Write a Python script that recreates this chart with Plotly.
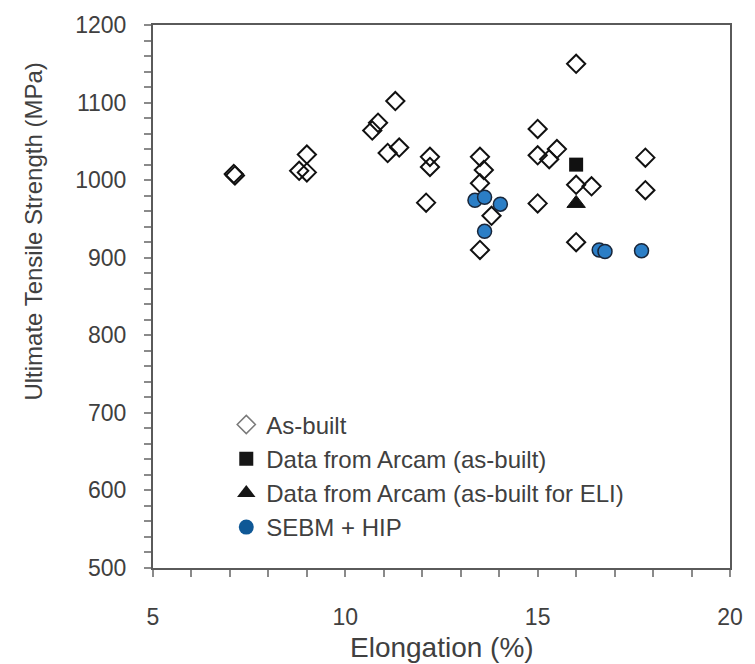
import plotly.graph_objects as go

# Elongation (%) and ultimate tensile strength (MPa)
as_built_elong = [7.1, 7.13, 8.8, 9.0, 9.0, 10.7, 10.85, 11.3, 11.1, 11.4,
                  12.2, 12.2, 12.1, 13.5, 13.6, 13.5, 13.8, 13.5,
                  15.0, 15.0, 15.3, 15.5, 15.0, 16.0, 16.0, 16.4, 16.0,
                  17.8, 17.8]
as_built_uts = [1008, 1006, 1012, 1033, 1010, 1064, 1074, 1102, 1035, 1042,
                1030, 1017, 971, 1030, 1013, 996, 954, 910,
                1066, 1032, 1027, 1040, 970, 1150, 994, 992, 920,
                1029, 987]

arcam_elong = [16.0]
arcam_uts = [1020]

arcam_eli_elong = [16.0]
arcam_eli_uts = [970]

hip_elong = [13.37, 13.62, 14.03, 13.62, 16.6, 16.75, 17.7]
hip_uts = [974, 978, 969, 934, 910, 908, 909]

legend_names = ["As-built", "Data from Arcam (as-built)",
                "Data from Arcam (as-built for ELI)", "SEBM + HIP"]

x_ticks = [5, 10, 15, 20]
y_ticks = [500, 600, 700, 800, 900, 1000, 1100, 1200]

TEXT = "#404040"
FONT = "Liberation Sans, Arial, sans-serif"

fig = go.Figure()

# plotted data
fig.add_trace(go.Scatter(
    x=as_built_elong, y=as_built_uts, mode="markers", showlegend=False,
    marker=dict(symbol="diamond-open", size=14, color="#111111",
                line=dict(width=2, color="#111111"))))
fig.add_trace(go.Scatter(
    x=hip_elong, y=hip_uts, mode="markers", showlegend=False,
    marker=dict(symbol="circle", size=14, color="#2b7ec6",
                line=dict(width=1.5, color="#18263a"))))
fig.add_trace(go.Scatter(
    x=arcam_elong, y=arcam_uts, mode="markers", showlegend=False,
    marker=dict(symbol="square", size=14, color="#111111")))
fig.add_trace(go.Scatter(
    x=arcam_eli_elong, y=arcam_eli_uts, mode="markers", showlegend=False,
    marker=dict(symbol="triangle-up", size=16, color="#111111",
                line=dict(width=1, color="#111111"))))

# legend entries
legend_markers = [
    dict(symbol="diamond-open", size=14, color="#7a7a7a", line=dict(width=1.5, color="#7a7a7a")),
    dict(symbol="square", size=14, color="#161616"),
    dict(symbol="triangle-up", size=16, color="#161616"),
    dict(symbol="circle", size=15, color="#0f5896"),
]
for name, mk in zip(legend_names, legend_markers):
    fig.add_trace(go.Scatter(x=[None], y=[None], mode="markers", name=name,
                             marker=mk, showlegend=True))

axis_common = dict(
    showline=True, mirror=True, linecolor="#5a5a5a", linewidth=2,
    showgrid=False, zeroline=False,
    ticks="outside", ticklen=7, tickwidth=1.5, tickcolor="#8a8a8a",
    tickfont=dict(family=FONT, size=23, color=TEXT),
)

fig.update_xaxes(range=[5, 20], tickvals=x_ticks, ticklabelstandoff=20,
                 minor=dict(dtick=1, ticks="outside", ticklen=7, tickwidth=1.5,
                            tickcolor="#8a8a8a"),
                 **axis_common)
fig.update_yaxes(range=[500, 1200], tickvals=y_ticks, ticklabelstandoff=13,
                 minor=dict(dtick=20, ticks="outside", ticklen=7, tickwidth=1.5,
                            tickcolor="#8a8a8a"),
                 **axis_common)

fig.add_annotation(text="Elongation (%)", xref="paper", yref="paper",
                   x=0.5, y=-0.146, xanchor="center", yanchor="middle",
                   showarrow=False, font=dict(family=FONT, size=28, color=TEXT))
fig.add_annotation(text="Ultimate Tensile Strength (MPa)", xref="paper", yref="paper",
                   x=-0.2075, y=0.62, xanchor="center", yanchor="middle",
                   textangle=-90, showarrow=False,
                   font=dict(family=FONT, size=24, color=TEXT))

fig.update_layout(
    width=755, height=664,
    margin=dict(l=153, r=19, t=21, b=96),
    paper_bgcolor="white", plot_bgcolor="white",
    legend=dict(x=0.127, y=0.305, xanchor="left", yanchor="top",
                bgcolor="rgba(0,0,0,0)", borderwidth=0,
                font=dict(family=FONT, size=24, color=TEXT)),
)

fig.write_html("out.html")
